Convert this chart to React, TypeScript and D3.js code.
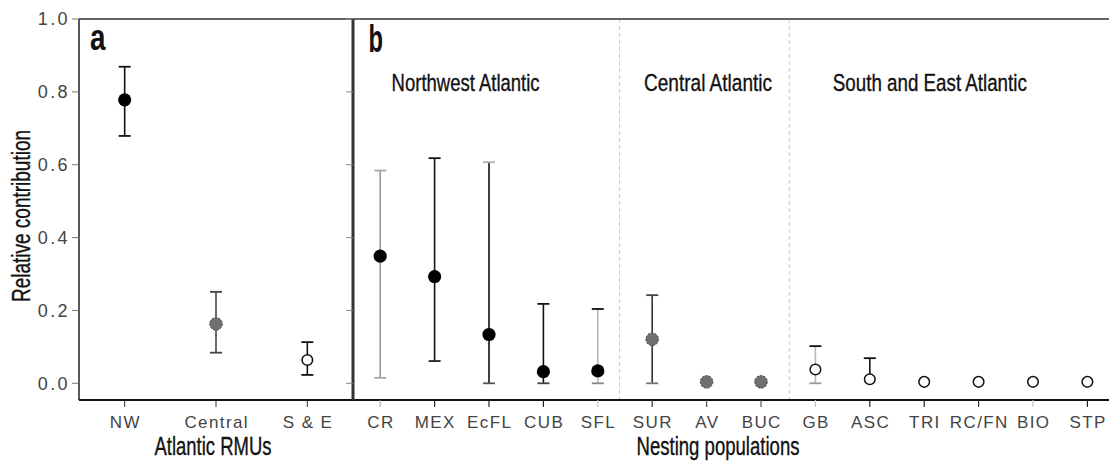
import React from 'react';
import * as d3 from 'd3';

// ---- Data ----
const rmus = ['NW', 'Central', 'S & E'];
const rmuMean = [0.778, 0.163, 0.064];
const rmuLow = [0.679, 0.084, 0.023];
const rmuHigh = [0.869, 0.251, 0.113];
const rmuKind = ['solid', 'gray', 'open'];

const pops = ['CR', 'MEX', 'EcFL', 'CUB', 'SFL', 'SUR', 'AV', 'BUC', 'GB', 'ASC', 'TRI', 'RC/FN', 'BIO', 'STP'];
const popMean = [0.349, 0.293, 0.134, 0.032, 0.034, 0.121, 0.004, 0.004, 0.038, 0.011, 0.004, 0.004, 0.004, 0.004];
const popLow: (number | null)[] = [0.015, 0.061, 0, 0, 0, 0, null, null, 0, 0.011, null, null, null, null];
const popHigh: (number | null)[] = [0.584, 0.618, 0.607, 0.218, 0.204, 0.242, null, null, 0.102, 0.069, null, null, null, null];
const popKind = ['solid', 'solid', 'solid', 'solid', 'solid', 'gray', 'gray', 'gray', 'open', 'open', 'open', 'open', 'open', 'open'];

const yTicks = [0, 0.2, 0.4, 0.6, 0.8, 1.0];
const groupTitles = ['Northwest Atlantic', 'Central Atlantic', 'South and East Atlantic'];
const groupTitleAt = [0.71, 5.35, 8.82]; // in band units
const groupBreaks = [4.9, 8.02]; // in band units

// ---- Styles ----
const groupTitleLen = [148, 128, 194];
const barLine = ['#9a9a9a', '#111', '#111', '#111', '#b8b8b8', '#333', '#333', '#333', '#b8b8b8', '#111', '#111', '#111', '#111', '#111'];
const capTop = ['#a8a8a8', '#111', '#b0b0b0', '#111', '#111', '#444', '#333', '#333', '#111', '#111', '#111', '#111', '#111', '#111'];
const capBottom = ['#a8a8a8', '#222', '#555', '#444', '#888', '#777', '#333', '#333', '#999', '#111', '#111', '#111', '#111', '#111'];
const tickCol = ['#aaa', '#222', '#222', '#222', '#c4c4c4', '#333', '#555', '#555', '#c4c4c4', '#222', '#222', '#333', '#c4c4c4', '#222'];

const W = 1109, H = 464;
const top = 19, yZero = 383.3, bottom = 400;
const leftA = 79, leftB = 353, rightB = 353 + 14 * 54.4;

const y = d3.scaleLinear().domain([0, 1]).range([yZero, top]);
const xa = d3.scaleBand().domain(rmus).range([leftA, leftB]);
const xb = d3.scaleBand().domain(pops).range([leftB, rightB]);
const xbIdx = d3.scaleLinear().domain([0, pops.length]).range([leftB, rightB]);

const narrow = '"Liberation Sans Narrow", "Arial Narrow", "Liberation Sans", Arial, sans-serif';
const sans = '"Liberation Sans", Arial, sans-serif';
const titleStyle = { stroke: '#111', strokeWidth: 0.35 };

function Point({ cx, cy, kind }: { cx: number; cy: number; kind: string }) {
  if (kind === 'open') return <circle cx={cx} cy={cy} r={5.3} fill="#fff" stroke="#111" strokeWidth={1.5} />;
  if (kind === 'gray') return <circle cx={cx} cy={cy} r={6.3} fill="#707070" stroke="#3c3c3c" strokeWidth={1} strokeDasharray="2,1.5" />;
  return <circle cx={cx} cy={cy} r={6.6} fill="#000" />;
}

function ErrBar({ cx, lo, hi, line, ct, cb, bottomCap = true }: { cx: number; lo: number; hi: number; line: string; ct: string; cb: string; bottomCap?: boolean }) {
  const cw = 6;
  return (
    <g>
      <line x1={cx} x2={cx} y1={y(hi)} y2={y(lo)} stroke={line} strokeWidth={1.6} />
      <line x1={cx - cw} x2={cx + cw} y1={y(hi)} y2={y(hi)} stroke={ct} strokeWidth={1.8} />
      {bottomCap ? <line x1={cx - cw} x2={cx + cw} y1={y(lo)} y2={y(lo)} stroke={cb} strokeWidth={1.8} /> : null}
    </g>
  );
}

export default function App() {
  return (
    <svg width={W} height={H} style={{ position: 'absolute', left: 0, top: 0, background: '#fff' }}>
      <rect width={W} height={H} fill="#fff" />
      {/* group dividers */}
      {groupBreaks.map((b, i) => (
        <line key={i} x1={xbIdx(b)} x2={xbIdx(b)} y1={top} y2={bottom} stroke="#d9c4c8" strokeWidth={1} strokeDasharray="4,3" />
      ))}
      {/* frame */}
      <line x1={leftA} x2={W} y1={top} y2={top} stroke="#333" strokeWidth={1.5} />
      <line x1={leftA} x2={W} y1={bottom} y2={bottom} stroke="#111" strokeWidth={1.8} />
      <line x1={leftA} x2={leftA} y1={top} y2={bottom} stroke="#222" strokeWidth={1.5} />
      <line x1={leftB} x2={leftB} y1={top} y2={bottom} stroke="#333" strokeWidth={3} />
      {/* y ticks */}
      {yTicks.map((t) => (
        <g key={t}>
          <line x1={leftA - 7} x2={leftA} y1={y(t)} y2={y(t)} stroke="#777" strokeWidth={1} />
          <line x1={leftB - 7} x2={leftB} y1={y(t)} y2={y(t)} stroke="#888" strokeWidth={1} />
          <text x={70} y={y(t)} dy="0.36em" textAnchor="end" fontFamily={sans} fontSize={18} letterSpacing={2.4} fill="#444">
            {d3.format('.1f')(t)}
          </text>
        </g>
      ))}
      <text transform={`translate(30,216) rotate(-90)`} textAnchor="middle" fontFamily={narrow} fontSize={25} fill="#111"
        textLength={172} lengthAdjust="spacingAndGlyphs" {...titleStyle}>
        Relative contribution
      </text>
      {/* panel a */}
      <text x={90} y={50} fontFamily={narrow} fontWeight="bold" fontSize={37} fill="#111" textLength={15.5} lengthAdjust="spacingAndGlyphs">a</text>
      {rmus.map((d, i) => {
        const cx = (xa(d) as number) + xa.bandwidth() / 2;
        return (
          <g key={d}>
            <line x1={cx} x2={cx} y1={bottom} y2={bottom + 7} stroke="#333" strokeWidth={1} />
            <text x={cx + 0.7} y={427.5} textAnchor="middle" fontFamily={sans} fontSize={17} letterSpacing={1.4} fill="#444">{d}</text>
            <ErrBar cx={cx} lo={rmuLow[i]} hi={rmuHigh[i]} line={i === 1 ? '#444' : '#111'} ct={i === 1 ? '#444' : '#111'} cb={i === 1 ? '#444' : '#111'} />
            <Point cx={cx} cy={y(rmuMean[i])} kind={rmuKind[i]} />
          </g>
        );
      })}
      <text x={(leftA + leftB) / 2 - 3} y={455} textAnchor="middle" fontFamily={narrow} fontSize={25} fill="#111"
        textLength={117} lengthAdjust="spacingAndGlyphs" {...titleStyle}>Atlantic RMUs</text>
      {/* panel b */}
      <text x={368.5} y={51.5} fontFamily={narrow} fontWeight="bold" fontSize={38} fill="#111" textLength={14.5} lengthAdjust="spacingAndGlyphs">b</text>
      {groupTitles.map((g, i) => (
        <text key={g} x={xbIdx(groupTitleAt[i])} y={91} fontFamily={narrow} fontSize={24.5} fill="#111"
          textLength={groupTitleLen[i]} lengthAdjust="spacingAndGlyphs" {...titleStyle}>{g}</text>
      ))}
      {pops.map((d, i) => {
        const cx = (xb(d) as number) + xb.bandwidth() / 2;
        const lo = popLow[i], hi = popHigh[i];
        return (
          <g key={d}>
            <line x1={cx} x2={cx} y1={bottom} y2={bottom + 7} stroke={tickCol[i]} strokeWidth={1.2} />
            <text x={cx + 0.7} y={427.5} textAnchor="middle" fontFamily={sans} fontSize={17} letterSpacing={1.4} fill="#444">{d}</text>
            {lo !== null && hi !== null ? (
              <ErrBar cx={cx} lo={lo} hi={hi} line={barLine[i]} ct={capTop[i]} cb={capBottom[i]} bottomCap={lo !== popMean[i]} />
            ) : null}
            <Point cx={cx} cy={y(popMean[i])} kind={popKind[i]} />
          </g>
        );
      })}
      <text x={718} y={455} textAnchor="middle" fontFamily={narrow} fontSize={25} fill="#111"
        textLength={163} lengthAdjust="spacingAndGlyphs" {...titleStyle}>Nesting populations</text>
    </svg>
  );
}
